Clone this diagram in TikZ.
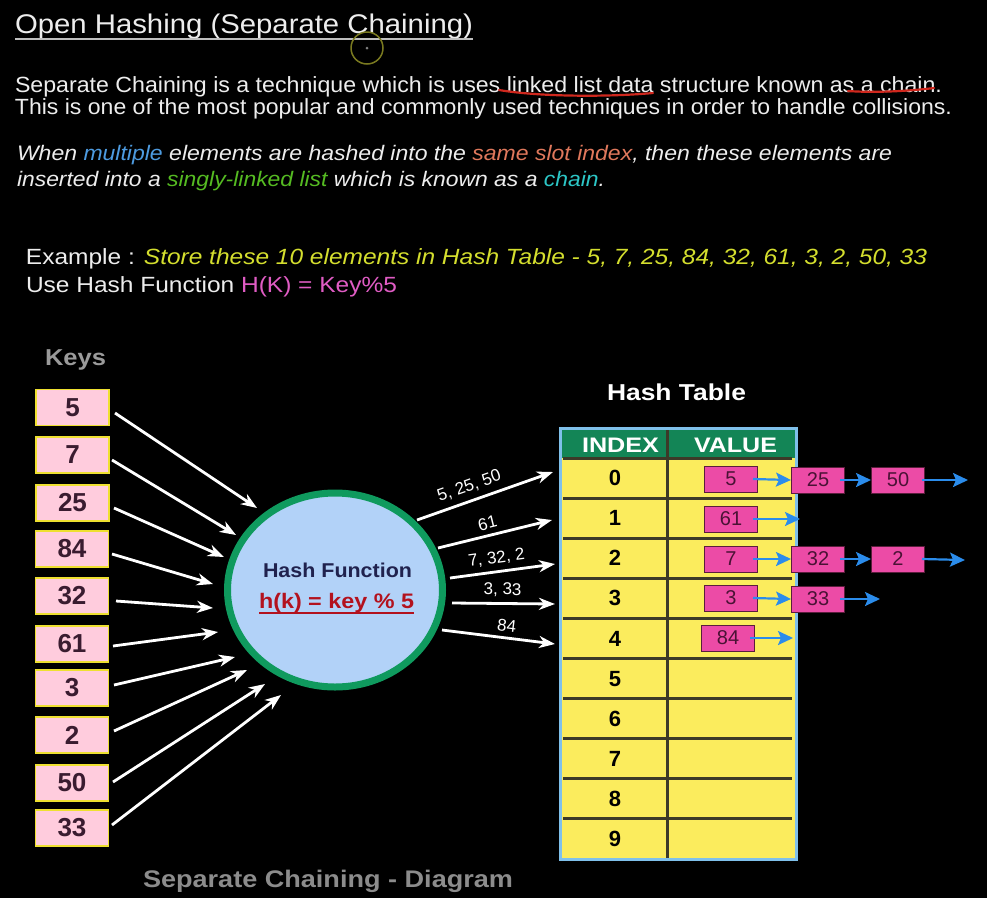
\documentclass[tikz,border=0pt]{standalone}
\usepackage{fontspec}
\setmainfont{Liberation Sans}
\usetikzlibrary{arrows.meta,shapes.geometric}
\definecolor{hfgreen}{HTML}{0F9A5E}
\definecolor{hfblue}{HTML}{B2D2F8}
\definecolor{keyfill}{HTML}{FFCCDD}
\definecolor{keyborder}{HTML}{EEE030}
\definecolor{keytext}{HTML}{3A1C30}
\definecolor{tyellow}{HTML}{FBEC5D}
\definecolor{tgreen}{HTML}{138556}
\definecolor{tborder}{HTML}{7FC0EA}
\definecolor{rowline}{HTML}{3C3A28}
\definecolor{cfill}{HTML}{EC4BA6}
\definecolor{cborder}{HTML}{5A1E3C}
\definecolor{ctext}{HTML}{4A1235}
\definecolor{bluearr}{HTML}{2B8CEB}
\definecolor{txtwhite}{HTML}{EDEDED}
\definecolor{cmulti}{HTML}{4D9BE0}
\definecolor{cslot}{HTML}{E0785C}
\definecolor{csingly}{HTML}{55BB22}
\definecolor{cchain}{HTML}{2CC6C6}
\definecolor{exyellow}{HTML}{D4DE2E}
\definecolor{hmag}{HTML}{E05CC4}
\definecolor{keysgray}{HTML}{9A9A9A}
\definecolor{capgray}{HTML}{8C8C8C}
\definecolor{hfnavy}{HTML}{20224E}
\definecolor{hfred}{HTML}{B3121E}
\definecolor{redmark}{HTML}{D0281E}
\definecolor{cursorc}{HTML}{7A7A20}
\newcommand{\fitto}[2]{\resizebox{#1}{\height}{#2}}
\tikzset{
  txt/.style={anchor=base west, inner sep=0, outer sep=0},
  keybox/.style={draw=keyborder, line width=1.5pt, fill=keyfill, minimum width=73pt, minimum height=36pt, inner sep=0, text=keytext, font=\fontsize{26}{26}\bfseries},
  warrow/.style={draw=white, line width=2.8pt, -{Stealth[length=16pt,width=12pt,inset=5pt]}},
  barrow/.style={draw=bluearr, line width=2.2pt, -{Stealth[length=15pt,width=14pt,inset=3pt]}},
  cbox/.style={draw=cborder, line width=1pt, fill=cfill, minimum width=53pt, minimum height=26pt, inner sep=0, text=ctext, font=\fontsize{20}{20}\selectfont},
  idxnum/.style={inner sep=0, text=black, font=\fontsize{22}{22}\bfseries},
  olabel/.style={inner sep=0, text=white, font=\fontsize{17}{17}\selectfont},
  rowsep/.style={draw=rowline, line width=3pt},
  redmk/.style={draw=redmark, line width=2.2pt, line cap=round}
}
\begin{document}
\begin{tikzpicture}[x=1pt,y=-1pt]
\fill[black] (0,0) rectangle (987,898);
\useasboundingbox (0,0) rectangle (987,898);

% ---------- header texts ----------
\node[txt, text=txtwhite] (title) at (15,33) {\fontsize{27}{27}\selectfont\fitto{458pt}{Open Hashing (Separate Chaining)}};
\draw[txtwhite!80!black, line width=1.8pt] ([yshift=-6pt]title.base west) -- ([yshift=-6pt]title.base east);
\draw[cursorc, line width=1.5pt] (367,48) circle[radius=16pt];
\fill[gray] (367,48) circle[radius=1.5pt];

\node[txt, text=txtwhite] (p1) at (15,92) {\fontsize{22}{22}\selectfont\fitto{927pt}{Separate Chaining is a technique which is uses linked list data structure known as a chain.}};
\node[txt, text=txtwhite] (p2) at (15,114) {\fontsize{22}{22}\selectfont\fitto{937pt}{This is one of the most popular and commonly used techniques in order to handle collisions.}};
\draw[redmk] (499,90) .. controls (540,97) and (610,97) .. (653,93);
\draw[redmk] (848,91) .. controls (875,93) and (910,91) .. (934,88);

\node[txt, text=txtwhite] (p3) at (17,160) {\fontsize{21}{21}\selectfont\itshape\fitto{875pt}{When \textcolor{cmulti}{multiple} elements are hashed into the \textcolor{cslot}{same slot index}, then these elements are}};
\node[txt, text=txtwhite] (p4) at (17,186) {\fontsize{21}{21}\selectfont\itshape\fitto{588pt}{inserted into a \textcolor{csingly}{singly-linked list} which is known as a \textcolor{cchain}{chain}.}};

\node[txt, text=txtwhite] (ex1) at (26,264) {\fontsize{22}{22}\selectfont\fitto{901pt}{Example : \textcolor{exyellow}{\itshape Store these 10 elements in Hash Table - 5, 7, 25, 84, 32, 61, 3, 2, 50, 33}}};
\node[txt, text=txtwhite] (ex2) at (26,292) {\fontsize{22}{22}\selectfont\fitto{371pt}{Use Hash Function \textcolor{hmag}{H(K) = Key\%5}}};

% ---------- keys ----------
\node[txt, text=keysgray] (keys) at (45,365) {\fontsize{23}{23}\bfseries\fitto{61pt}{Keys}};
\node[keybox] (k1) at (72.5,407.5) {5};
\node[keybox] (k2) at (72.5,455) {7};
\node[keybox] (k3) at (72.5,503) {25};
\node[keybox] (k4) at (72,549) {84};
\node[keybox] (k5) at (72,596) {32};
\node[keybox] (k6) at (72,644) {61};
\node[keybox] (k7) at (72,688) {3};
\node[keybox] (k8) at (72,735) {2};
\node[keybox] (k9) at (72,783) {50};
\node[keybox] (k10) at (72,828) {33};

% ---------- hash function ----------
\node[ellipse, draw=hfgreen, line width=7pt, fill=hfblue, minimum width=215pt, minimum height=194pt, inner sep=0] (hf) at (335,590) {};
\node[txt, text=hfnavy] (hft1) at (263,577) {\fontsize{20}{20}\bfseries\fitto{149pt}{Hash Function}};
\node[txt, text=hfred] (hft2) at (259,608) {\fontsize{21}{21}\bfseries\fitto{155pt}{h(k) = key \% 5}};
\draw[hfred, line width=1.5pt] ([yshift=-5pt]hft2.base west) -- ([yshift=-5pt]hft2.base east);

% key arrows
\coordinate (s1) at (115,413);  \coordinate (t1) at (257,508);
\coordinate (s2) at (112,460);  \coordinate (t2) at (236,535);
\coordinate (s3) at (114,508);  \coordinate (t3) at (224,557);
\coordinate (s4) at (112,554);  \coordinate (t4) at (213,584);
\coordinate (s5) at (116,601);  \coordinate (t5) at (213,608);
\coordinate (s6) at (113,646);  \coordinate (t6) at (218,632);
\coordinate (s7) at (114,685);  \coordinate (t7) at (235,657);
\coordinate (s8) at (114,731);  \coordinate (t8) at (247,670);
\coordinate (s9) at (113,782);  \coordinate (t9) at (265,684);
\coordinate (s10) at (112,825); \coordinate (t10) at (281,695);
\foreach \i in {1,...,10} \draw[warrow] (s\i) -- (t\i);

% output arrows
\coordinate (o1s) at (417,520); \coordinate (o1e) at (553,472);
\coordinate (o2s) at (438,548); \coordinate (o2e) at (552,520);
\coordinate (o3s) at (450,578); \coordinate (o3e) at (555,564);
\coordinate (o4s) at (452,603); \coordinate (o4e) at (555,604);
\coordinate (o5s) at (442,630); \coordinate (o5e) at (555,644);
\draw[warrow] (o1s) -- node[olabel, sloped, above=6pt, pos=0.42] (l1) {5, 25, 50} (o1e);
\draw[warrow] (o2s) -- node[olabel, sloped, above=5pt, pos=0.46] (l2) {61} (o2e);
\draw[warrow] (o3s) -- node[olabel, sloped, above=5pt, pos=0.46] (l3) {7, 32, 2} (o3e);
\draw[warrow] (o4s) -- node[olabel, sloped, above=5pt, pos=0.49] (l4) {3, 33} (o4e);
\draw[warrow] (o5s) -- node[olabel, sloped, above=5pt, pos=0.56] (l5) {84} (o5e);

% ---------- hash table ----------
\node[txt, text=white] (ht) at (607,400) {\fontsize{23}{23}\bfseries\fitto{139pt}{Hash Table}};
\fill[tyellow] (560,428) rectangle (796,859);
\fill[tgreen] (560,428) rectangle (796,458);
\foreach \i in {0,...,9} \draw[rowsep] (563,458+40.1*\i) -- (792,458+40.1*\i);
\draw[rowsep] (667,430) -- (667,859);
\draw[tborder, line width=3pt] (560,428) rectangle (796,859);
\node[txt, text=white] (hidx) at (582,452) {\fontsize{21}{21}\bfseries\fitto{77pt}{INDEX}};
\node[txt, text=white] (hval) at (694,452) {\fontsize{21}{21}\bfseries\fitto{83pt}{VALUE}};
\foreach \i in {0,...,9} \node[idxnum] (i\i) at (615,478.05+40.1*\i) {\i};

% chains
\node[cbox] (c00) at (731,479) {5};
\node[cbox] (c01) at (818,480) {25};
\node[cbox] (c02) at (898,480) {50};
\node[cbox] (c10) at (731,519) {61};
\node[cbox] (c20) at (731,559) {7};
\node[cbox] (c21) at (818,559) {32};
\node[cbox] (c22) at (898,559) {2};
\node[cbox] (c30) at (731,598) {3};
\node[cbox] (c31) at (818,599) {33};
\node[cbox] (c40) at (728,638) {84};
\coordinate (e0) at (968,480);
\coordinate (e1) at (800,519);
\coordinate (e2) at (965,560);
\coordinate (e3) at (880,599);
\coordinate (e4) at (793,638);
\draw[barrow] ([xshift=-5pt]c00.east) -- (c01.west);
\draw[barrow] ([xshift=-5pt]c01.east) -- (c02.west);
\draw[barrow] ([xshift=-3pt]c02.east) -- (e0);
\draw[barrow] ([xshift=-5pt]c10.east) -- (e1);
\draw[barrow] ([xshift=-5pt]c20.east) -- (c21.west);
\draw[barrow] ([xshift=-5pt]c21.east) -- (c22.west);
\draw[barrow] ([xshift=-3pt]c22.east) -- (e2);
\draw[barrow] ([xshift=-5pt]c30.east) -- (c31.west);
\draw[barrow] ([xshift=-5pt]c31.east) -- (e3);
\draw[barrow] ([xshift=-5pt]c40.east) -- (e4);

% caption
\node[txt, text=capgray] (cap) at (143,887) {\fontsize{24}{24}\bfseries\fitto{370pt}{Separate Chaining - Diagram}};
\end{tikzpicture}
\end{document}
